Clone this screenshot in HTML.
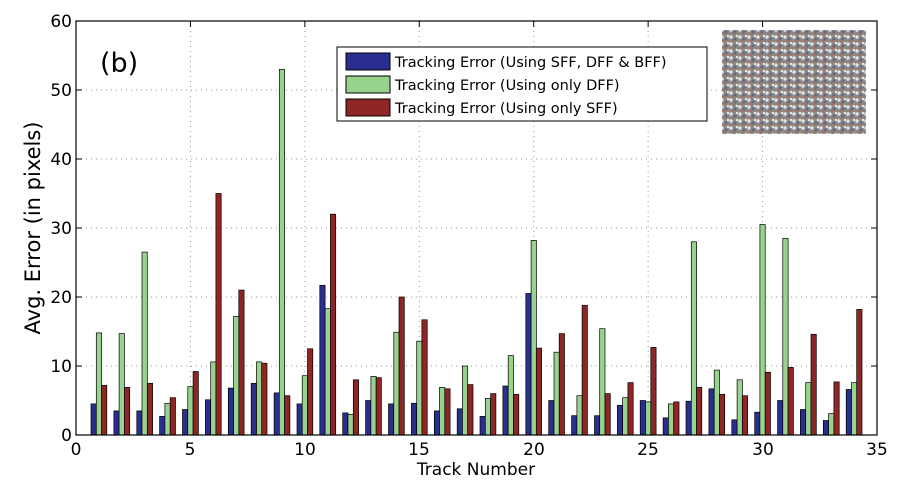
<!DOCTYPE html>
<html><head><meta charset="utf-8"><style>
html,body{margin:0;padding:0;background:#fff;}
svg{display:block;font-family:"DejaVu Sans","Liberation Sans",sans-serif;}
</style></head><body>
<svg id="s" width="906" height="485" viewBox="0 0 906 485" xmlns="http://www.w3.org/2000/svg">
<rect width="906" height="485" fill="#fff"/>
<g id="grid"></g>
<g id="bars"></g>
<rect x="76" y="21" width="801" height="414" fill="none" stroke="#000" stroke-width="1.2"/>
<g font-size="17" fill="#000" text-anchor="end">
<text x="72" y="441">0</text><text x="72" y="372">10</text><text x="72" y="303">20</text>
<text x="72" y="234">30</text><text x="72" y="165">40</text><text x="72" y="96">50</text><text x="72" y="27">60</text>
</g>
<g font-size="17" fill="#000" text-anchor="middle">
<text x="76" y="455">0</text><text x="190" y="455">5</text><text x="305" y="455">10</text>
<text x="419" y="455">15</text><text x="534" y="455">20</text><text x="648" y="455">25</text>
<text x="763" y="455">30</text><text x="877" y="455">35</text>
</g>
<text x="476" y="475" font-size="17" text-anchor="middle">Track Number</text>
<text transform="translate(40,228) rotate(-90)" font-size="21" text-anchor="middle">Avg. Error (in pixels)</text>
<text x="100" y="72" font-size="27">(b)</text>
<rect x="337" y="47" width="370" height="74" fill="#fff" stroke="#000" stroke-width="1"/>
<rect x="346" y="53" width="44" height="17" fill="#2a2f8f" stroke="#000"/>
<rect x="346" y="76" width="44" height="17" fill="#98d38d" stroke="#000"/>
<rect x="346" y="99" width="44" height="17" fill="#8f2626" stroke="#000"/>
<g font-size="14.5"><text x="395" y="67">Tracking Error (Using SFF, DFF &amp; BFF)</text>
<text x="395" y="90">Tracking Error (Using only DFF)</text>
<text x="395" y="113">Tracking Error (Using only SFF)</text></g>
<defs><pattern id="cr" width="9" height="7" patternUnits="userSpaceOnUse">
<rect width="9" height="7" fill="#8c8884"/>
<circle cx="2" cy="2" r="1.7" fill="#dfe3ea"/><circle cx="6" cy="4" r="1.5" fill="#5a6a90"/>
<circle cx="4" cy="6" r="1.2" fill="#b86a50"/><circle cx="8" cy="1" r="1.2" fill="#eee8dc"/>
</pattern></defs>
<rect x="722" y="30" width="144" height="104" fill="url(#cr)"/>
</svg>
<script>
var d=[[4.5,14.8,7.2],[3.5,14.7,6.9],[3.5,26.5,7.5],[2.7,4.6,5.4],[3.7,7.0,9.2],[5.1,10.6,35],[6.8,17.2,21],[7.5,10.6,10.4],[6.1,53,5.7],[4.5,8.6,12.5],[21.7,18.3,32],[3.2,3.0,8.0],[5.0,8.5,8.3],[4.5,14.9,20],[4.6,13.6,16.7],[3.5,6.9,6.7],[3.8,10.0,7.3],[2.7,5.3,6.0],[7.1,11.5,5.9],[20.5,28.2,12.6],[5.0,12.0,14.7],[2.8,5.7,18.8],[2.8,15.4,6.0],[4.3,5.4,7.6],[5.0,4.8,12.7],[2.5,4.5,4.8],[4.9,28,6.9],[6.7,9.4,5.9],[2.2,8.0,5.7],[3.3,30.5,9.1],[5.0,28.5,9.8],[3.7,7.6,14.6],[2.1,3.1,7.7],[6.6,7.6,18.2]];
var c=["#2a2f8f","#98d38d","#8f2626"];
function X(v){return 76+v*801/35}function Y(v){return 435-v*6.9}
var g=document.getElementById("grid"),h="";
for(var i=5;i<35;i+=5)h+='<line x1="'+X(i)+'" y1="21" x2="'+X(i)+'" y2="435" stroke="#999" stroke-dasharray="1,4"/>';
for(var j=10;j<60;j+=10)h+='<line x1="76" y1="'+Y(j)+'" x2="877" y2="'+Y(j)+'" stroke="#999" stroke-dasharray="1,4"/>';
for(var i=5;i<35;i+=5)h+='<line x1="'+X(i)+'" y1="21" x2="'+X(i)+'" y2="27" stroke="#000"/><line x1="'+X(i)+'" y1="435" x2="'+X(i)+'" y2="429" stroke="#000"/>';
for(var j=10;j<60;j+=10)h+='<line x1="76" y1="'+Y(j)+'" x2="82" y2="'+Y(j)+'" stroke="#000"/><line x1="871" y1="'+Y(j)+'" x2="877" y2="'+Y(j)+'" stroke="#000"/>';
g.innerHTML=h;
var b="",w=0.23;
d.forEach(function(r,k){var t=k+1;r.forEach(function(v,m){var x0=X(t+(m-1)*w-w/2),x1=X(t+(m-1)*w+w/2);
b+='<rect x="'+x0.toFixed(1)+'" y="'+Y(v).toFixed(1)+'" width="'+(x1-x0).toFixed(1)+'" height="'+(v*6.9).toFixed(1)+'" fill="'+c[m]+'" stroke="#000" stroke-width="0.7"/>';});});
document.getElementById("bars").innerHTML=b;
</script>
</body></html>
